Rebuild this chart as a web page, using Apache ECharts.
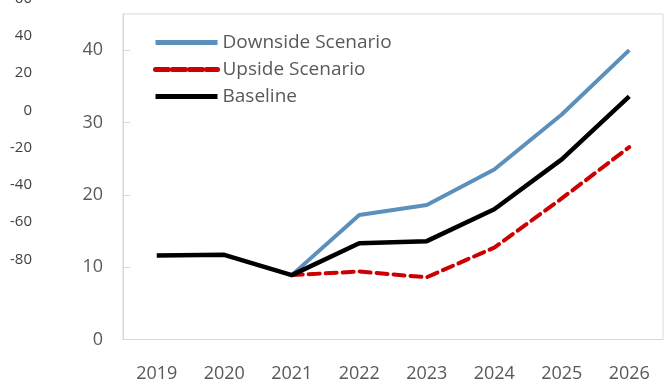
<!DOCTYPE html>
<html>
<head>
<meta charset="utf-8">
<script src="https://cdn.jsdelivr.net/npm/echarts@6/dist/echarts.min.js"></script>
<style>
  html, body { margin: 0; padding: 0; background: #fff; }
  #chart { width: 666px; height: 383px; }
</style>
</head>
<body>
<div id="chart"></div>
<script>
// Years on the horizontal axis
const years = ['2019', '2020', '2021', '2022', '2023', '2024', '2025', '2026'];

// Scenario paths (scenarios branch off the baseline in 2021)
const downside = [null, null, 8.9, 17.2, 18.6, 23.5, 31.1, 40.0];
const upside   = [null, null, 8.9, 9.4, 8.6, 12.7, 19.5, 26.6];
const baseline = [11.6, 11.7, 8.9, 13.3, 13.6, 18.0, 24.9, 33.6];

// Secondary scale printed at the far left
const leftScaleMin = -80;
const leftScaleMax = 60;

const FONT = 'Open Sans';

const chart = echarts.init(document.getElementById('chart'));

chart.setOption({
  animation: false,
  textStyle: { fontFamily: FONT },
  grid: [
    {
      left: 123, right: 3, top: 14, bottom: 43.5,
      show: true, borderColor: '#d9d9d9', borderWidth: 1,
      outerBoundsMode: 'none'
    },
    {
      left: 40, width: 5, top: -1.5, height: 261,
      outerBoundsMode: 'none'
    }
  ],
  legend: {
    orient: 'vertical',
    left: 148, top: 28,
    itemWidth: 62, itemHeight: 14, itemGap: 8,
    itemStyle: { opacity: 0 },
    lineStyle: { width: 5 },
    textStyle: { fontFamily: FONT, fontSize: 19, color: '#595959' },
    data: [
      { name: 'Downside Scenario' },
      { name: 'Upside Scenario', lineStyle: { width: 5, type: [13, 4] } },
      { name: 'Baseline' }
    ]
  },
  xAxis: [
    {
      type: 'category', gridIndex: 0, data: years, boundaryGap: true,
      axisLine: { lineStyle: { color: '#d9d9d9' } },
      axisTick: { inside: true, length: 10, lineStyle: { color: '#d9d9d9' } },
      axisLabel: { fontSize: 18, color: '#595959', margin: 25, fontFamily: FONT }
    },
    {
      type: 'value', gridIndex: 1, show: false
    }
  ],
  yAxis: [
    {
      type: 'value', gridIndex: 0, min: 0, max: 45, interval: 10,
      axisLine: { show: true, lineStyle: { color: '#d9d9d9' } },
      axisTick: { show: true, inside: true, length: 7, lineStyle: { color: '#d9d9d9' } },
      splitLine: { show: false },
      axisLabel: { fontSize: 18, color: '#595959', margin: 20, showMaxLabel: false, fontFamily: FONT }
    },
    {
      type: 'value', gridIndex: 1, min: leftScaleMin, max: leftScaleMax, interval: 20,
      axisLine: { show: false },
      axisTick: { show: false },
      splitLine: { show: false },
      axisLabel: { fontSize: 15, color: '#404040', margin: 8, fontFamily: FONT }
    }
  ],
  series: [
    {
      name: 'Downside Scenario', type: 'line', data: downside,
      xAxisIndex: 0, yAxisIndex: 0,
      symbol: 'none', lineStyle: { color: '#5b8fbc', width: 4 },
      itemStyle: { color: '#5b8fbc' }
    },
    {
      name: 'Upside Scenario', type: 'line', data: upside,
      xAxisIndex: 0, yAxisIndex: 0,
      symbol: 'none', lineStyle: { color: '#cc0000', width: 4, type: [11, 6], cap: 'round' },
      itemStyle: { color: '#cc0000' }
    },
    {
      name: 'Baseline', type: 'line', data: baseline,
      xAxisIndex: 0, yAxisIndex: 0,
      symbol: 'none', lineStyle: { color: '#000000', width: 4.5 },
      itemStyle: { color: '#000000' }
    }
  ]
});
</script>
</body>
</html>
